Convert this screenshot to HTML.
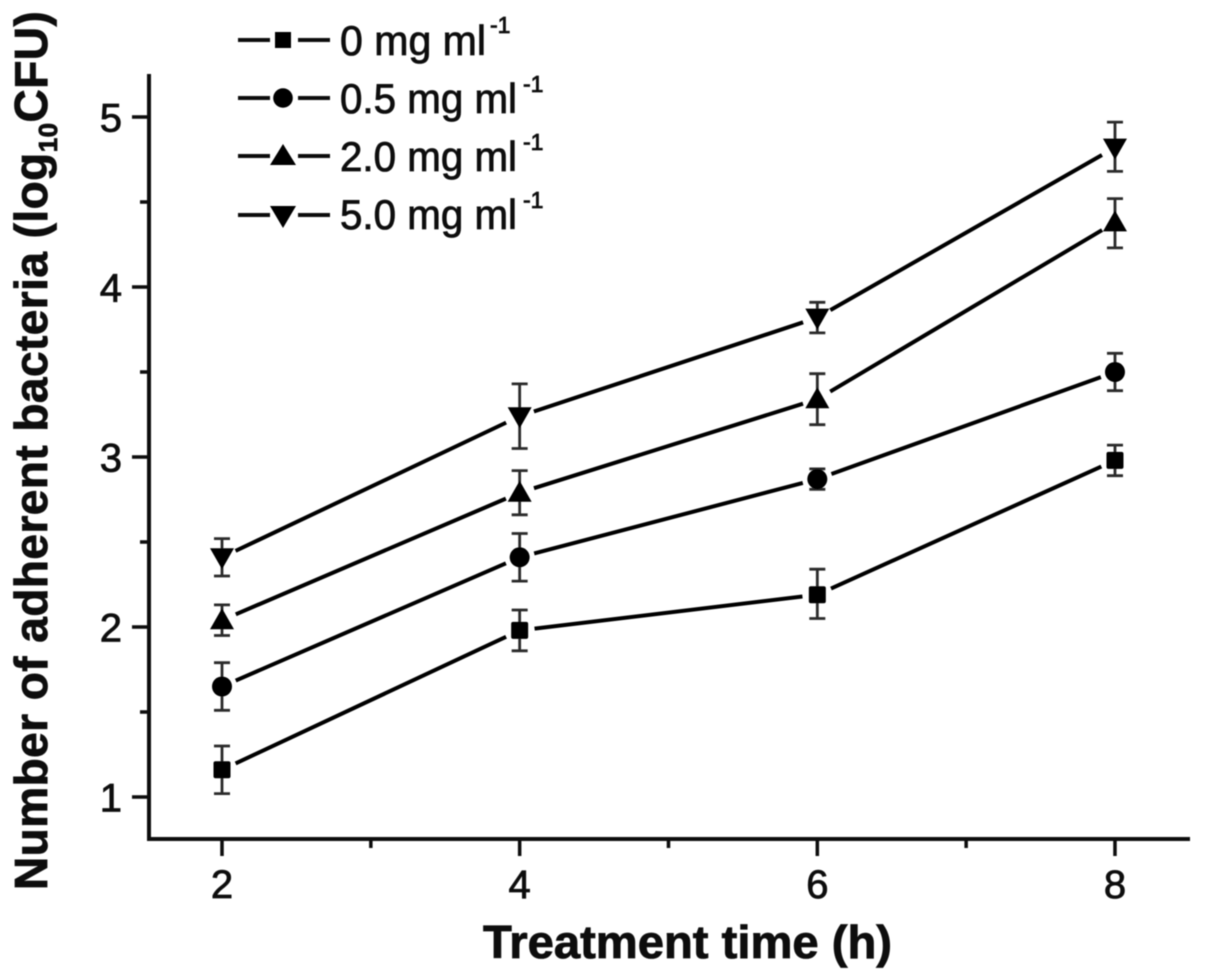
<!DOCTYPE html>
<html>
<head>
<meta charset="utf-8">
<title>Adherent bacteria chart</title>
<style>
html,body{margin:0;padding:0;background:#fff;}
svg{display:block;}
text{font-family:"Liberation Sans",sans-serif;fill:#0a0a0a;stroke:#0a0a0a;stroke-width:0.8px;}
</style>
</head>
<body>
<svg id="chart" width="1205" height="980" viewBox="0 0 1205 980" xmlns="http://www.w3.org/2000/svg">
  <defs><filter id="soft" x="-5%" y="-5%" width="110%" height="110%"><feGaussianBlur stdDeviation="0.55"/></filter></defs>
  <g id="root" filter="url(#soft)">
    <text x="483" y="958" font-size="46" font-weight="bold" textLength="409" lengthAdjust="spacingAndGlyphs">Treatment time (h)</text>
    <text transform="translate(47,890) rotate(-90)" font-size="46" font-weight="bold" letter-spacing="0.45">Number of adherent bacteria (log<tspan font-size="26" dy="10">10</tspan><tspan dy="-10">CFU)</tspan></text>

    <g stroke="#0a0a0a" stroke-width="4">
      <g>
        <line x1="238" x2="270" y1="40" y2="40"/><line x1="298" x2="330" y1="40" y2="40"/>
        <rect x="275" y="32" width="16" height="16" fill="#000" stroke="none"/>
        <text x="340" y="55" font-size="42" textLength="146" lengthAdjust="spacingAndGlyphs">0 mg ml</text>
        <text x="490" y="33" font-size="23">-1</text>
      </g>
      <g>
        <line x1="238" x2="270" y1="98" y2="98"/><line x1="298" x2="330" y1="98" y2="98"/>
        <circle cx="283" cy="98" r="9.8" fill="#000" stroke="none"/>
        <text x="340" y="113" font-size="42" textLength="177" lengthAdjust="spacingAndGlyphs">0.5 mg ml</text>
        <text x="523" y="92" font-size="23">-1</text>
      </g>
      <g>
        <line x1="238" x2="270" y1="156" y2="156"/><line x1="298" x2="330" y1="156" y2="156"/>
        <polygon points="283,144 296,165 270,165" fill="#000" stroke="none"/>
        <text x="340" y="171" font-size="42" textLength="177" lengthAdjust="spacingAndGlyphs">2.0 mg ml</text>
        <text x="523" y="150" font-size="23">-1</text>
      </g>
      <g>
        <line x1="238" x2="270" y1="215" y2="215"/><line x1="298" x2="330" y1="215" y2="215"/>
        <polygon points="270,206 296,206 283,228" fill="#000" stroke="none"/>
        <text x="340" y="229" font-size="42" textLength="177" lengthAdjust="spacingAndGlyphs">5.0 mg ml</text>
        <text x="523" y="208" font-size="23">-1</text>
      </g>
    </g>
  </g>
</svg>
<script>
var xCategories = [2, 4, 6, 8];
var xTickLabels = ['2', '4', '6', '8'];
var xMinorTicks = [3, 5, 7];
var yTickValues = [1, 2, 3, 4, 5];
var yMinorTicks = [1.5, 2.5, 3.5, 4.5];

var seriesNames = ['0-mg-ml', '0-5-mg-ml', '2-0-mg-ml', '5-0-mg-ml'];
var seriesMarkers = ['square', 'circle', 'triangle-up', 'triangle-down'];

var mean0 = [1.16, 1.98, 2.19, 2.98];
var upper0 = [1.30, 2.10, 2.34, 3.07];
var lower0 = [1.02, 1.86, 2.05, 2.89];

var mean05 = [1.65, 2.41, 2.87, 3.50];
var upper05 = [1.79, 2.55, 2.93, 3.61];
var lower05 = [1.51, 2.27, 2.81, 3.39];

var mean2 = [2.04, 2.79, 3.34, 4.38];
var upper2 = [2.13, 2.92, 3.49, 4.52];
var lower2 = [1.95, 2.66, 3.19, 4.23];

var mean5 = [2.41, 3.24, 3.82, 4.82];
var upper5 = [2.52, 3.43, 3.91, 4.97];
var lower5 = [2.30, 3.05, 3.73, 4.68];

var allMeans = [mean0, mean05, mean2, mean5];
var allUppers = [upper0, upper05, upper2, upper5];
var allLowers = [lower0, lower05, lower2, lower5];

function sx(v) { return 222 + (v - 2) * 148.83; }
function sy(v) { return 797 - (v - 1) * 170; }

var NS = 'http://www.w3.org/2000/svg';
var root = document.getElementById('root');

function mk(tag, attrs, parent) {
  var el = document.createElementNS(NS, tag);
  for (var k in attrs) { el.setAttribute(k, attrs[k]); }
  (parent || root).appendChild(el);
  return el;
}

var axisColor = '#0a0a0a';

var yAxis = mk('line', {x1: 149, x2: 149, y1: 74, y2: 841, stroke: axisColor, 'stroke-width': 4});



var xAxis = mk('line', {x1: 147, x2: 1190, y1: 839, y2: 839, stroke: axisColor, 'stroke-width': 4});



xCategories.forEach(function (v, i) {
  var t = mk('line', {x1: sx(v), x2: sx(v), y1: 839, y2: 856, stroke: axisColor, 'stroke-width': 3.5});
  
  
  var l = mk('text', {x: sx(v), y: 898, 'font-size': 40, 'text-anchor': 'middle'});
  l.textContent = xTickLabels[i];
  
  
});
xMinorTicks.forEach(function (v) {
  var t = mk('line', {x1: sx(v), x2: sx(v), y1: 839, y2: 848, stroke: axisColor, 'stroke-width': 3.5});
  
  
});
yTickValues.forEach(function (v) {
  var t = mk('line', {x1: 132, x2: 149, y1: sy(v), y2: sy(v), stroke: axisColor, 'stroke-width': 3.5});
  
  
  var l = mk('text', {x: 122, y: sy(v) + 14.5, 'font-size': 40, 'text-anchor': 'end'});
  l.textContent = String(v);
  
  
});
yMinorTicks.forEach(function (v) {
  var t = mk('line', {x1: 140, x2: 149, y1: sy(v), y2: sy(v), stroke: axisColor, 'stroke-width': 3.5});
  
  
});

function drawMarker(kind, cx, cy, g) {
  var m;
  if (kind === 'square') {
    m = mk('rect', {x: cx - 8.5, y: cy - 8.5, width: 17, height: 17, rx: 2, fill: '#000'}, g);
  } else if (kind === 'circle') {
    m = mk('circle', {cx: cx, cy: cy, r: 10, fill: '#000'}, g);
  } else if (kind === 'triangle-up') {
    m = mk('polygon', {points: cx + ',' + (cy - 12) + ' ' + (cx + 12) + ',' + (cy + 9) + ' ' + (cx - 12) + ',' + (cy + 9), fill: '#000'}, g);
  } else {
    m = mk('polygon', {points: (cx - 12) + ',' + (cy - 9) + ' ' + (cx + 12) + ',' + (cy - 9) + ' ' + cx + ',' + (cy + 12), fill: '#000'}, g);
  }
  return m;
}

var lineGap = 15;

allMeans.forEach(function (means, s) {
  var g = mk('g', {});
  
  

  for (var i = 0; i < means.length; i++) {
    var cx = sx(xCategories[i]);
    var top = sy(allUppers[s][i]);
    var bot = sy(allLowers[s][i]);
    var eb = mk('path', {
      d: 'M' + (cx - 8) + ' ' + top + 'H' + (cx + 8) + 'M' + cx + ' ' + top + 'V' + bot + 'M' + (cx - 8) + ' ' + bot + 'H' + (cx + 8),
      fill: 'none', stroke: '#2a2a2a', 'stroke-width': 2.8
    }, g);
    
    
  }

  for (var j = 0; j < means.length - 1; j++) {
    var x1 = sx(xCategories[j]), y1 = sy(means[j]);
    var x2 = sx(xCategories[j + 1]), y2 = sy(means[j + 1]);
    var dx = x2 - x1, dy = y2 - y1, len = Math.sqrt(dx * dx + dy * dy);
    var ux = dx / len, uy = dy / len;
    var seg = mk('line', {
      x1: x1 + ux * lineGap, y1: y1 + uy * lineGap,
      x2: x2 - ux * lineGap, y2: y2 - uy * lineGap,
      stroke: '#000', 'stroke-width': 4
    }, g);
    
    
  }

  for (var k = 0; k < means.length; k++) {
    var mx = sx(xCategories[k]), my = sy(means[k]);
    var marker = drawMarker(seriesMarkers[s], mx, my, g);
    
    
  }
});
</script>
</body>
</html>
